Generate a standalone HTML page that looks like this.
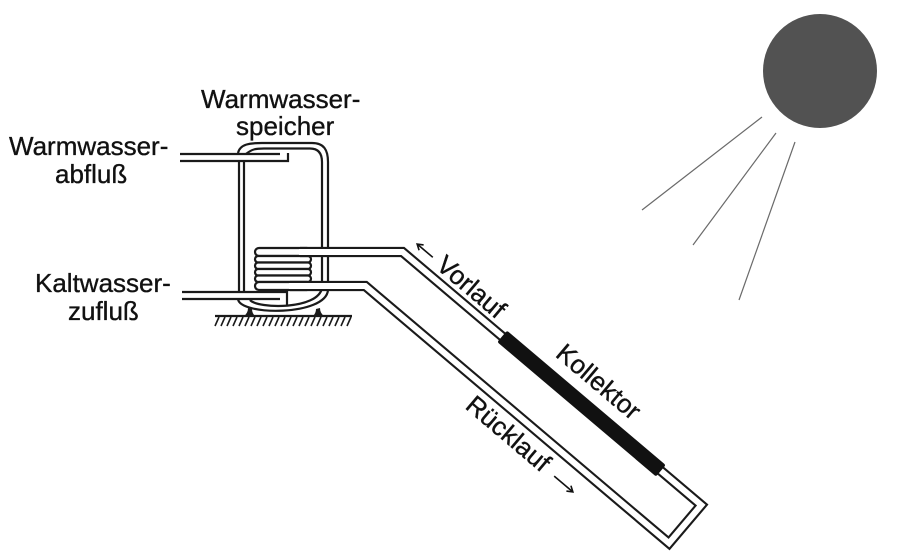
<!DOCTYPE html>
<html><head><meta charset="utf-8"><style>
html,body{margin:0;padding:0;background:#fff;}
svg{display:block;}
text{font-family:"Liberation Sans",Arial,sans-serif;font-size:26px;fill:#111;stroke:#111;stroke-width:0.35px;}
</style></head><body>
<svg width="906" height="557" viewBox="0 0 906 557" xmlns="http://www.w3.org/2000/svg">
<rect width="906" height="557" fill="#fff"/>
<!-- sun -->
<circle cx="820" cy="71" r="57" fill="#525252"/>
<g stroke="#6a6a6a" stroke-width="1.2">
<line x1="762" y1="117" x2="642" y2="210"/>
<line x1="776" y1="133" x2="693" y2="245"/>
<line x1="795" y1="142" x2="739" y2="300"/>
</g>
<g fill="none" stroke="#1a1a1a" stroke-width="2.2">
<!-- tank outer -->
<path d="M238,153 C240,144 250,143 262,143 L312,143 C324,143 328,150 328,162 L328,290 C326,316 240,316 238,299"/>
<!-- tank inner -->
<path d="M246,154 C252,149 256,148.5 264,148.5 L310,148.5 C318,148.5 322,153 322,162 L322,288 C318,310 258,309 250,300"/>
<line x1="239" y1="161" x2="239" y2="292"/>
<line x1="244" y1="161" x2="244" y2="292"/>
</g>
<!-- warm pipe -->
<rect x="180" y="154" width="108" height="7" fill="#fff"/>
<g fill="none" stroke="#1a1a1a" stroke-width="2.2">
<path d="M180,154 L280,154"/>
<path d="M180,161 L288,161 L288,153"/>
</g>
<!-- cold pipe -->
<rect x="182" y="292" width="105" height="7" fill="#fff"/>
<g fill="none" stroke="#1a1a1a" stroke-width="2.2">
<path d="M182,292 L287,292 L287,305"/>
<path d="M182,299 L280,299"/>
</g>
<!-- coil -->
<g fill="#fff" stroke="#1a1a1a" stroke-width="2.2">
<rect x="255" y="248" width="56" height="8" rx="4"/>
<rect x="255" y="256" width="56" height="6.5" rx="3.2"/>
<rect x="255" y="262.5" width="56" height="6.5" rx="3.2"/>
<rect x="255" y="269" width="56" height="6.5" rx="3.2"/>
<rect x="255" y="275.5" width="56" height="6.5" rx="3.2"/>
<rect x="255" y="282" width="56" height="8" rx="4"/>
</g>
<!-- main pipe loop -->
<path d="M300,252 L402.5,252 L701.3,505.1 L669,543.2 L365.3,286 L290,286" fill="none" stroke="#1a1a1a" stroke-width="10.2" stroke-linejoin="miter"/>
<path d="M299,252 L402.5,252 L701.3,505.1 L669,543.2 L365.3,286 L289,286" fill="none" stroke="#fff" stroke-width="6" stroke-linejoin="miter"/>
<!-- ground -->
<g stroke="#1a1a1a" stroke-width="2.2" fill="none">
<line x1="215" y1="316" x2="352" y2="316"/>
</g>
<g stroke="#1a1a1a" stroke-width="1.6" fill="none">
<path d="M219,317L215,326M225,317L221,326M231,317L227,326M237,317L233,326M243,317L239,326M249,317L245,326M255,317L251,326M261,317L257,326M267,317L263,326M273,317L269,326M279,317L275,326M285,317L281,326M291,317L287,326M297,317L293,326M303,317L299,326M309,317L305,326M315,317L311,326M321,317L317,326M327,317L323,326M333,317L329,326M339,317L335,326M345,317L341,326M351,317L347,326"/>
</g>
<!-- feet -->
<path d="M244,316 Q248,313 248,308 L252,309 Q252,313 255,316 Z" fill="#1a1a1a"/>
<path d="M313,316 Q316,313 316,309 L320,308 Q320,313 324,316 Z" fill="#1a1a1a"/>
<!-- rotated group -->
<g transform="translate(404,248) rotate(40.26)">
<rect x="132" y="-3.5" width="208" height="15" rx="2" fill="#111"/>
<text x="36" y="-5">Vorlauf</text>
<text x="235" y="-15" text-anchor="middle">Kollektor</text>
<text x="149" y="83">Rücklauf</text>
<g stroke="#111" stroke-width="1.6" fill="none">
<line x1="28" y1="-11.5" x2="8" y2="-11.5"/>
<path d="M13,-15 L7.5,-11.5 L13,-8"/>
<line x1="262" y1="77" x2="286" y2="77"/>
<path d="M281,73.5 L286.5,77 L281,80.5"/>
</g>
</g>
<!-- labels -->
<text x="9" y="155">Warmwasser-</text>
<text x="55" y="183">abfluß</text>
<text x="201" y="108">Warmwasser-</text>
<text x="236" y="135">speicher</text>
<text x="35" y="292">Kaltwasser-</text>
<text x="68" y="320">zufluß</text>
</svg>
</body></html>
